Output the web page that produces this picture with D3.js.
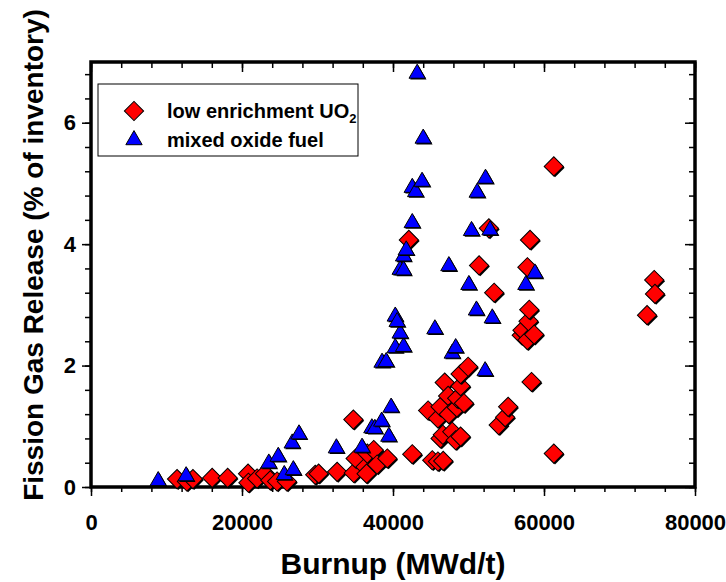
<!DOCTYPE html>
<html>
<head>
<meta charset="utf-8">
<script src="https://cdn.jsdelivr.net/npm/d3@7"></script>
<style>
  body { margin: 0; background: #fff; }
  text { font-family: "Liberation Sans", Arial, sans-serif; font-weight: bold; }
</style>
</head>
<body>
<div id="chart"></div>
<script>
// low enrichment UO2 : [burnup MWd/t, FGR %]
let uo2Burnup = [11400, 12700, 13500, 16050, 18100, 20800, 20850, 22000, 23050, 23750, 24650, 25950,
    29700, 30150, 32600, 34750, 34800, 35050, 36350, 36500, 36600, 37450, 37900, 39250,
    42100, 42550, 44650, 45200, 45950, 46650, 45950, 46300, 46300, 46600, 46850, 47300,
    47400, 47850, 48300, 48450, 48500, 48950, 48950, 48950, 49400, 49950,
    51400, 52700, 53400, 54000, 54850, 55250, 57050, 57150, 57800, 57800, 57950, 58050,
    58150, 58350, 58700, 61300, 61300, 73650, 74600, 74700];
let uo2Release = [0.13, 0.09, 0.13, 0.15, 0.15, 0.22, 0.07, 0.14, 0.22, 0.11, 0.09, 0.09,
    0.20, 0.22, 0.25, 1.11, 0.23, 0.47, 0.33, 0.22, 0.55, 0.61, 0.37, 0.47,
    4.07, 0.54, 1.26, 0.44, 0.42, 0.43, 1.13, 1.32, 0.80, 0.86, 1.72, 1.50,
    1.20, 0.91, 0.77, 1.31, 1.46, 0.83, 1.66, 1.86, 1.38, 1.98,
    3.65, 4.26, 3.20, 1.02, 1.15, 1.32, 2.50, 2.58, 2.42, 3.62, 2.73, 2.92,
    4.07, 1.73, 2.51, 5.28, 0.55, 2.83, 3.41, 3.18];

// mixed oxide fuel
let moxBurnup = [8900, 12600, 23550, 24800, 25600, 26800, 26650, 27550, 32500, 35900,
    37200, 37600, 38500, 39450, 39750, 38550, 39100, 40300, 41400, 40950, 40300, 40550,
    40950, 41400, 41400, 41750, 42550, 42550, 43000, 43850, 44000, 43200,
    45550, 47400, 47850, 48300, 50050, 50400, 51050, 51150, 52250, 52850, 52200, 53150,
    57600, 58800];
let moxRelease = [0.10, 0.18, 0.39, 0.50, 0.20, 0.28, 0.72, 0.87, 0.64, 0.65,
    0.97, 0.96, 1.08, 0.83, 1.31, 2.05, 2.06, 2.29, 2.31, 2.53, 2.81, 2.72,
    3.58, 3.57, 3.80, 3.90, 4.35, 4.93, 4.86, 5.03, 5.74, 6.81,
    2.60, 3.64, 2.20, 2.29, 3.33, 4.22, 2.91, 4.85, 5.08, 4.23, 1.91, 2.78,
    3.33, 3.52];

let xTickLabels = [0, 20000, 40000, 60000, 80000];
let yTickLabels = [0, 2, 4, 6];

let margin = {top: 62, right: 31, bottom: 95, left: 91},
    width = 726 - margin.left - margin.right,
    height = 582 - margin.top - margin.bottom;

let svg = d3.select("#chart")
            .append("svg")
                .attr("width", 726)
                .attr("height", 582)
            .append("g")
                .attr("transform", "translate(" + margin.left + "," + margin.top + ")");

let x = d3.scaleLinear().domain([0, 80000]).range([0, width]);
let y = d3.scaleLinear().domain([0, 7]).range([height, 0]);

let xMinor = d3.range(0, 80001, 4000);
let yMinor = d3.range(0, 7.01, 0.4);

function styleAxis(g) {
    g.select(".domain").remove();
    g.selectAll(".tick line").attr("stroke", "#000").attr("stroke-width", 1.5);
}

// bottom: outward ticks
svg.append("g").attr("transform", "translate(0," + height + ")")
    .call(d3.axisBottom(x).tickValues(xMinor).tickSize(5).tickFormat(""))
    .call(styleAxis);
svg.append("g").attr("transform", "translate(0," + height + ")")
    .call(d3.axisBottom(x).tickValues(xTickLabels).tickSize(9).tickPadding(18).tickFormat(d3.format("d")))
    .call(styleAxis)
    .selectAll("text").style("font-size", "22px").attr("fill", "#000");

// top: inward ticks
svg.append("g")
    .call(d3.axisTop(x).tickValues(xMinor).tickSize(-6).tickFormat(""))
    .call(styleAxis);
svg.append("g")
    .call(d3.axisTop(x).tickValues(xTickLabels).tickSize(-10).tickFormat(""))
    .call(styleAxis);

// left: outward ticks
svg.append("g")
    .call(d3.axisLeft(y).tickValues(yMinor).tickSize(6).tickFormat(""))
    .call(styleAxis);
svg.append("g")
    .call(d3.axisLeft(y).tickValues(yTickLabels).tickSize(9).tickPadding(6).tickFormat(d3.format("d")))
    .call(styleAxis)
    .selectAll("text").style("font-size", "22px").attr("fill", "#000");

// right: inward ticks
svg.append("g").attr("transform", "translate(" + width + ",0)")
    .call(d3.axisRight(y).tickValues(yMinor).tickSize(-6).tickFormat(""))
    .call(styleAxis);
svg.append("g").attr("transform", "translate(" + width + ",0)")
    .call(d3.axisRight(y).tickValues(yTickLabels).tickSize(-10).tickFormat(""))
    .call(styleAxis);

// frame
svg.append("rect")
    .attr("width", width).attr("height", height)
    .attr("fill", "none").attr("stroke", "#000").attr("stroke-width", 3.5);

let diamond = d3.symbol().type(d3.symbolSquare).size(185)();
let triangle = d3.symbol().type(d3.symbolTriangle).size(115)();

let uo2 = uo2Burnup.map((b, i) => ({b: b, r: uo2Release[i]}));
let mox = moxBurnup.map((b, i) => ({b: b, r: moxRelease[i]}));

function drawSeries(data, path, rot, fill) {
    let g = svg.append("g");
    data.forEach(d => {
        g.append("path")
            .attr("d", path)
            .attr("transform", "translate(" + (x(d.b) + 1.2) + "," + (y(d.r) + 1.2) + ")rotate(" + rot + ")")
            .attr("fill", "#000");
        g.append("path")
            .attr("d", path)
            .attr("transform", "translate(" + x(d.b) + "," + y(d.r) + ")rotate(" + rot + ")")
            .attr("fill", fill)
            .attr("stroke", "#000")
            .attr("stroke-width", 1);
    });
}
drawSeries(uo2, diamond, 45, "#ff0000");
drawSeries(mox, triangle, 0, "#0000ff");

// legend
let leg = svg.append("g").attr("transform", "translate(7,22)");
leg.append("rect").attr("width", 260).attr("height", 72)
    .attr("fill", "#fff").attr("stroke", "#000").attr("stroke-width", 1);
leg.append("path").attr("d", diamond).attr("transform", "translate(36,27)rotate(45)")
    .attr("fill", "#ff0000").attr("stroke", "#000");
leg.append("path").attr("d", triangle).attr("transform", "translate(36,56)")
    .attr("fill", "#0000ff").attr("stroke", "#000");
let t1 = leg.append("text").attr("x", 69).attr("y", 34).style("font-size", "20px");
t1.append("tspan").text("low enrichment UO");
t1.append("tspan").attr("dy", 5).style("font-size", "13px").text("2");
leg.append("text").attr("x", 69).attr("y", 63).style("font-size", "20px").text("mixed oxide fuel");

// axis titles
d3.select("svg").append("text")
    .attr("x", margin.left + width / 2).attr("y", 574)
    .attr("text-anchor", "middle").style("font-size", "30px")
    .text("Burnup (MWd/t)");
d3.select("svg").append("text")
    .attr("transform", "translate(43,255)rotate(-90)")
    .attr("text-anchor", "middle").style("font-size", "28px")
    .text("Fission Gas Release (% of inventory)");
</script>
</body>
</html>
